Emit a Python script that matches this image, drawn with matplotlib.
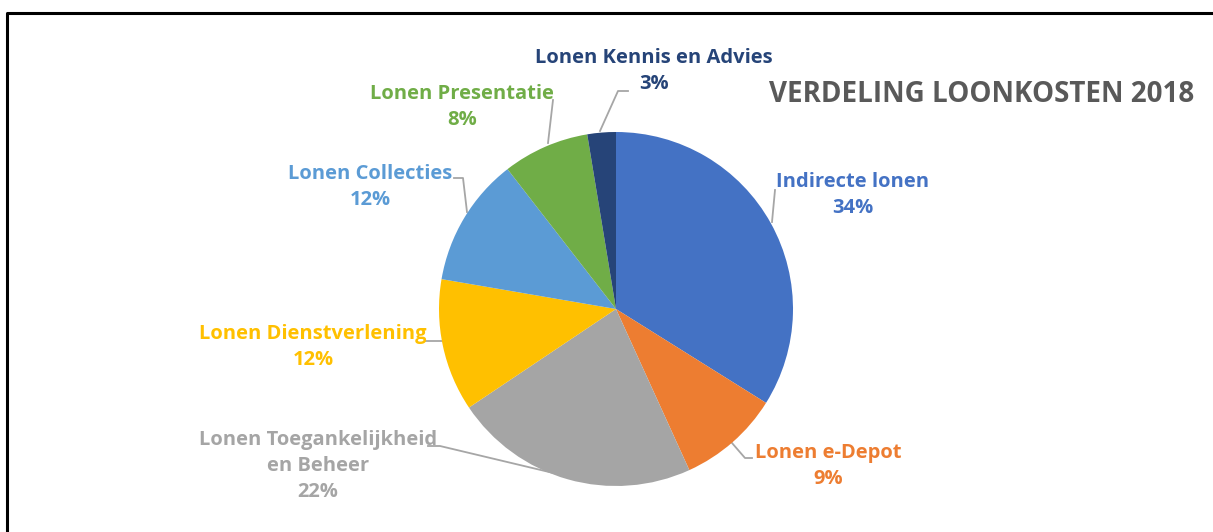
import matplotlib.pyplot as plt

# slice shares (percent), clockwise from 12 o'clock
labels = ["Indirecte lonen", "Lonen e-Depot", "Lonen Toegankelijkheid\nen Beheer",
          "Lonen Dienstverlening", "Lonen Collecties", "Lonen Presentatie",
          "Lonen Kennis en Advies"]
values = [33.9, 9.3, 22.4, 12.1, 11.8, 7.9, 2.6]
colors = ["#4472C4", "#ED7D31", "#A5A5A5", "#FFC000", "#5B9BD5", "#70AD47", "#264478"]
title = "VERDELING LOONKOSTEN 2018"

W, H = 1213, 532
fig = plt.figure(figsize=(W / 100, H / 100), dpi=100)
ax = fig.add_axes([0, 0, 1, 1])
ax.set_xlim(0, W)
ax.set_ylim(H, 0)
ax.axis("off")

# pie in its own axes, placed by pixel position
cx, cy, r = 616, 309, 177
pax = fig.add_axes([(cx - r) / W, 1 - (cy + r) / H, 2 * r / W, 2 * r / H])
pax.pie(values, colors=colors, startangle=90, counterclock=False,
        radius=1, wedgeprops=dict(linewidth=0))
pax.set_xlim(-1, 1)
pax.set_ylim(-1, 1)
pax.set_aspect("equal")
pax.axis("off")

font = ["Open Sans", "DejaVu Sans"]

# label block centers and leader lines, in pixels
label_pos = [(853, 195), (828, 466), (318, 466), (313, 347), (370, 187), (462, 107), (654, 71)]
leaders = [
    [(775, 190), (772, 222)],
    [(732, 443), (745, 458), (752, 458)],
    [(428, 446), (440, 446), (566, 476)],
    [(425, 341), (443, 341)],
    [(454, 178), (463, 178), (467, 212)],
    [(548, 143), (553, 100)],
    [(600, 131), (618, 91), (628, 91)],
]

for lab, v, c, (x, y), ln in zip(labels, values, colors, label_pos, leaders):
    ax.text(x, y, f"{lab}\n{round(v)}%", color=c, fontsize=14.5, fontweight="bold",
            family=font, ha="center", va="center", linespacing=1.38)
    xs, ys = zip(*ln)
    ax.plot(xs, ys, color="#A6A6A6", linewidth=1.3)

ax.text(982, 95, title, color="#595959", fontsize=20, fontweight="bold",
        family=font, ha="center", va="center")

# frame
ax.plot([7, 7, W], [H, 13, 13], color="black", linewidth=2.2)

fig.savefig("out.png", dpi=100)
